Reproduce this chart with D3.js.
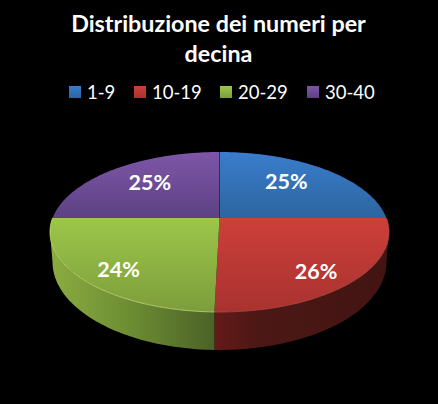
<!DOCTYPE html>
<html>
<head>
<meta charset="utf-8">
<script src="https://cdn.jsdelivr.net/npm/d3@7"></script>
<style>
  html, body { margin: 0; padding: 0; background: #000; }
  svg { display: block; }
  text { font-family: Lato, "Open Sans", sans-serif; fill: #fff; }
</style>
</head>
<body>
<div id="root"></div>
<script>
const titleLines = ["Distribuzione dei numeri per", "decina"];
const categories = ["1-9", "10-19", "20-29", "30-40"];
const values = [25, 25.4, 24.6, 25];
const labels = ["25%", "26%", "24%", "25%"];

const w = 438, h = 404;
const faceColors = [["#3a7dcd", "#2c659f"], ["#cd3f3a", "#a8322f"], ["#9cc749", "#7d9d3b"], ["#7e56a8", "#5d4183"]];
const wallColors = [null, ["#651a18", "#4c1815", "#421412"], ["#8bad40", "#6c8c33", "#4c6227"], null];
const wallMid = [0, 0.25, 0.5, 0];
const legendX = [69, 134, 220, 307];

// the pie is seen in perspective: the middle of the disc is not the middle of the ellipse
const cx = 219.5, cy = 218, persp = 0.175;
const rx = 166.9, ry = 77.55;
const bottom = { cy: 246.6, sx: 0.985, sy: 1.1 };

const project = (a, r, o) => {
  const u = Math.sin(a) * r, v = -Math.cos(a) * r;
  const d = 1 - persp * v;
  return [cx + (o ? o.sx : 1) * rx * u / d, (o ? o.cy : cy) + (o ? o.sy : 1) * ry * v / d];
};

const svg = d3.select("#root").append("svg").attr("width", w).attr("height", h);
svg.append("rect").attr("width", w).attr("height", h).attr("fill", "#000");
const defs = svg.append("defs");

const pie = d3.pie().sort(null).value(d => d);
const slices = pie(values);
const line = d3.line();
const samples = (a0, a1) => d3.range(0, 61).map(i => a0 + (a1 - a0) * i / 60);

slices.forEach((s, i) => {
  const face = defs.append("linearGradient").attr("id", "face" + i)
    .attr("gradientUnits", "userSpaceOnUse").attr("x1", 0).attr("x2", 0)
    .attr("y1", i == 0 || i == 3 ? 152 : 218).attr("y2", i == 0 || i == 3 ? 218 : 312);
  face.append("stop").attr("offset", 0).attr("stop-color", faceColors[i][0]);
  face.append("stop").attr("offset", 1).attr("stop-color", faceColors[i][1]);

  if (wallColors[i]) {
    const wall = defs.append("linearGradient").attr("id", "wall" + i)
      .attr("gradientUnits", "userSpaceOnUse").attr("y1", 0).attr("y2", 0)
      .attr("x1", i == 2 ? 50 : 214).attr("x2", i == 2 ? 214 : 389);
    [0, wallMid[i], 1].forEach((o, j) => {
      wall.append("stop").attr("offset", o).attr("stop-color", wallColors[i][j]);
    });
  }

  const sw = defs.append("linearGradient").attr("id", "swatch" + i)
    .attr("x1", 0).attr("x2", 0).attr("y1", 0).attr("y2", 1);
  sw.append("stop").attr("offset", 0).attr("stop-color", faceColors[i][0]);
  sw.append("stop").attr("offset", 1).attr("stop-color", faceColors[i][1]);
});

// side walls first, the two front slices only, stopping where the rim turns away
const tangent = Math.asin(persp);
slices.forEach((s, i) => {
  if (!wallColors[i]) return;
  const a0 = Math.max(s.startAngle, Math.PI / 2 + tangent);
  const a1 = Math.min(s.endAngle, 3 * Math.PI / 2 - tangent);
  const angles = samples(a0, a1);
  const pts = angles.map(a => project(a, 1)).concat(angles.slice().reverse().map(a => project(a, 1, bottom)));
  svg.append("path").attr("d", line(pts) + "Z").attr("fill", "url(#wall" + i + ")");
});

// top of the pie
slices.forEach((s, i) => {
  const pts = [[cx, cy]].concat(samples(s.startAngle, s.endAngle).map(a => project(a, 1)));
  svg.append("path").attr("d", line(pts) + "Z").attr("fill", "url(#face" + i + ")");
});

// dark seam between the back slices
svg.append("path").attr("d", line([[cx, cy], project(0, 1)]))
  .attr("stroke", "#1c2f4e").attr("stroke-width", 0.8);

// light rim on the front edge
slices.forEach((s, i) => {
  if (!wallColors[i]) return;
  svg.append("path").attr("d", line(samples(s.startAngle, s.endAngle).map(a => project(a, 1))))
    .attr("fill", "none").attr("stroke", i == 2 ? "#c3dc7a" : "#b04a44").attr("stroke-width", 0.8);
});

// value labels
const labelNudge = [-5, 4, -3, 3];
slices.forEach((s, i) => {
  const back = i == 0 || i == 3;
  const mid = (s.startAngle + s.endAngle) / 2;
  const p = project(mid + labelNudge[i] * Math.PI / 180, back ? 0.68 : 0.8);
  svg.append("text").attr("x", p[0]).attr("y", p[1] + 8)
    .attr("text-anchor", "middle").attr("font-size", 21.5).attr("font-weight", 700)
    .text(labels[i]);
});

svg.selectAll(".title").data(titleLines).enter().append("text")
  .attr("class", "title")
  .attr("x", 218.5).attr("y", (d, i) => 32 + i * 30)
  .attr("text-anchor", "middle").attr("font-size", 23.3).attr("font-weight", 700)
  .text(d => d);

const legend = svg.selectAll(".legend").data(categories).enter().append("g")
  .attr("class", "legend")
  .attr("transform", (d, i) => "translate(" + legendX[i] + ",86)");
legend.append("rect").attr("width", 12).attr("height", 12)
  .attr("fill", (d, i) => "url(#swatch" + i + ")");
legend.append("text").attr("x", 18).attr("y", 13).attr("font-size", 18.5).text(d => d);
</script>
</body>
</html>
